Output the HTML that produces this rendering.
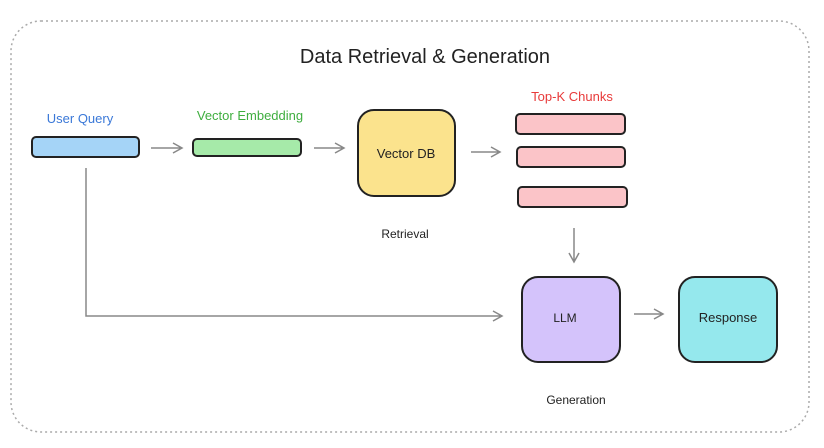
<!DOCTYPE html>
<html><head><meta charset="utf-8"><style>
html,body{margin:0;padding:0;background:#fff;}
svg{display:block}
text{font-family:"Liberation Sans",sans-serif;}
</style></head><body>
<svg width="824" height="448" viewBox="0 0 824 448" xmlns="http://www.w3.org/2000/svg">
<rect x="11" y="21" width="798" height="411" rx="30" fill="none" stroke="#aaa" stroke-width="1.5" stroke-dasharray="2 3"/>
<text x="425" y="63" text-anchor="middle" font-size="20" fill="#222">Data Retrieval &amp; Generation</text>
<text x="80" y="123" text-anchor="middle" font-size="13" fill="#3a78d8">User Query</text>
<text x="250" y="120" text-anchor="middle" font-size="13" fill="#3fae3f">Vector Embedding</text>
<text x="572" y="101" text-anchor="middle" font-size="13" fill="#e83a3a">Top-K Chunks</text>
<rect x="32" y="137" width="107" height="20" rx="4" fill="#a5d4f7" stroke="#222" stroke-width="2"/>
<rect x="193" y="139" width="108" height="17" rx="4" fill="#a6eaa9" stroke="#222" stroke-width="2"/>
<rect x="358" y="110" width="97" height="86" rx="16" fill="#fbe38d" stroke="#222" stroke-width="2"/>
<text x="406" y="158" text-anchor="middle" font-size="13" fill="#222">Vector DB</text>
<rect x="516" y="114" width="109" height="20" rx="4" fill="#fbc4c8" stroke="#222" stroke-width="2"/>
<rect x="517" y="147" width="108" height="20" rx="4" fill="#fbc4c8" stroke="#222" stroke-width="2"/>
<rect x="518" y="187" width="109" height="20" rx="4" fill="#fbc4c8" stroke="#222" stroke-width="2"/>
<text x="405" y="238" text-anchor="middle" font-size="12" fill="#222">Retrieval</text>
<rect x="522" y="277" width="98" height="85" rx="16" fill="#d4c3fb" stroke="#222" stroke-width="2"/>
<text x="565" y="322" text-anchor="middle" font-size="12" fill="#222">LLM</text>
<rect x="679" y="277" width="98" height="85" rx="16" fill="#95e8ed" stroke="#222" stroke-width="2"/>
<text x="728" y="322" text-anchor="middle" font-size="13" fill="#222">Response</text>
<text x="576" y="404" text-anchor="middle" font-size="12" fill="#222">Generation</text>
<g stroke="#888" stroke-width="1.5" fill="none">
<path d="M151 148H182M173 143L182 148L173 153"/>
<path d="M314 148H344M335 143L344 148L335 153"/>
<path d="M471 152H500M491 147L500 152L491 157"/>
<path d="M574 228V262M569 253L574 262L579 253"/>
<path d="M86 168V316H502M493 311L502 316L493 321"/>
<path d="M634 314H663M654 309L663 314L654 319"/>
</g>
</svg>
</body></html>
